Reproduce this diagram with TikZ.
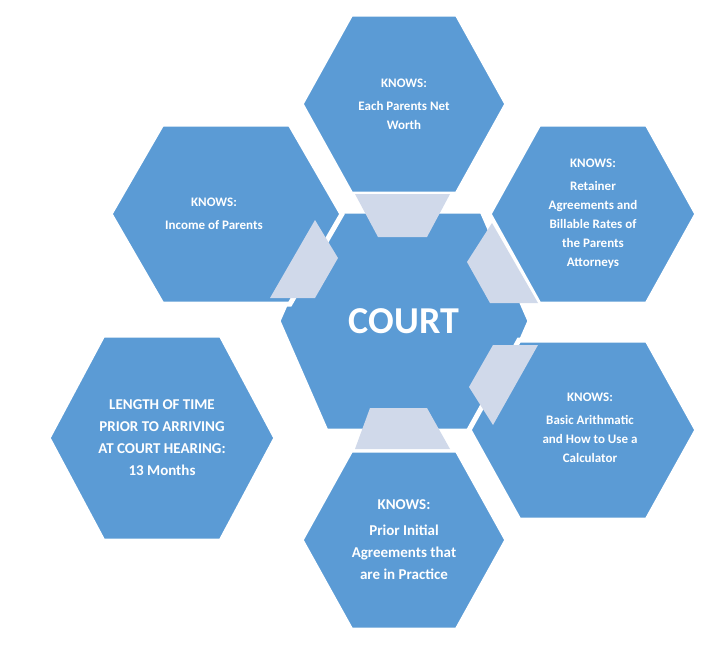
\documentclass[tikz,border=0pt]{standalone}
\usepackage{fontspec}
\setmainfont{Carlito}
\usepackage{xcolor}
\usetikzlibrary{positioning}
\definecolor{hexblue}{HTML}{5B9BD5}
\definecolor{linkgray}{HTML}{D0D9EA}
% hexagon: centre x, centre y, half width, half height, inset of top edge
\newcommand{\hexa}[5]{%
  \filldraw[fill=hexblue, draw=white, line width=5pt, line join=miter]
    (#1-#3,#2) -- (#1-#3+#5,#2-#4) -- (#1+#3-#5,#2-#4)
    -- (#1+#3,#2) -- (#1+#3-#5,#2+#4) -- (#1-#3+#5,#2+#4) -- cycle;}
\begin{document}
\begin{tikzpicture}[
      x=1pt, y=-1pt,
      txt/.style={
        text=white,
        font=\bfseries\fontsize{13}{19}\selectfont,
        align=center
      },
      link/.style={
        fill=linkgray
      }
      ]
        \useasboundingbox[fill=white] (0,0) rectangle (720,653);

        % hexagons
        \hexa{404}{321}{126}{110}{48}
        \hexa{404}{104}{103}{90}{50}
        \hexa{226}{214}{116}{90}{52}
        \hexa{593}{214}{104}{90}{50}
        \hexa{583}{430}{114}{90}{50}
        \hexa{404}{540}{103}{90}{50}
        \hexa{162}{438}{114}{103}{55}

        % connectors
        \fill[link] (355,194) -- (450,194) -- (427,237) -- (378,237) -- cycle;
        \fill[link] (370,408) -- (427,408) -- (450,449) -- (355,449) -- cycle;
        \fill[link] (315,220) -- (338,258) -- (315,298) -- (270,298) -- cycle;
        \fill[link] (492,223) -- (538,303) -- (490,303) -- (467,262) -- cycle;
        \fill[link] (493,345) -- (538,345) -- (493,425) -- (469,387) -- cycle;

        % texts
        \node[txt, font=\bfseries\fontsize{38}{44}\selectfont] (court) at (404,321) {COURT};
        \node[txt] (networth) at (404,104) {KNOWS:\\[4pt]Each Parents Net\\Worth};
        \node[txt] (income) at (214,214) {KNOWS:\\[4pt]Income of Parents};
        \node[txt] (retainer) at (593,214) {KNOWS:\\[4pt]Retainer\\Agreements and\\Billable Rates of\\the Parents\\Attorneys};
        \node[txt] (arith) at (590,428) {KNOWS:\\[4pt]Basic Arithmatic\\and How to Use a\\Calculator};
        \node[txt, font=\bfseries\fontsize{15}{22}\selectfont] (prior) at (404,540) {KNOWS:\\[4pt]Prior Initial\\Agreements that\\are in Practice};
        \node[txt, font=\bfseries\fontsize{15}{22}\selectfont] (length) at (162,438) {LENGTH OF TIME\\PRIOR TO ARRIVING\\AT COURT HEARING:\\13 Months};
    \end{tikzpicture}
\end{document}
